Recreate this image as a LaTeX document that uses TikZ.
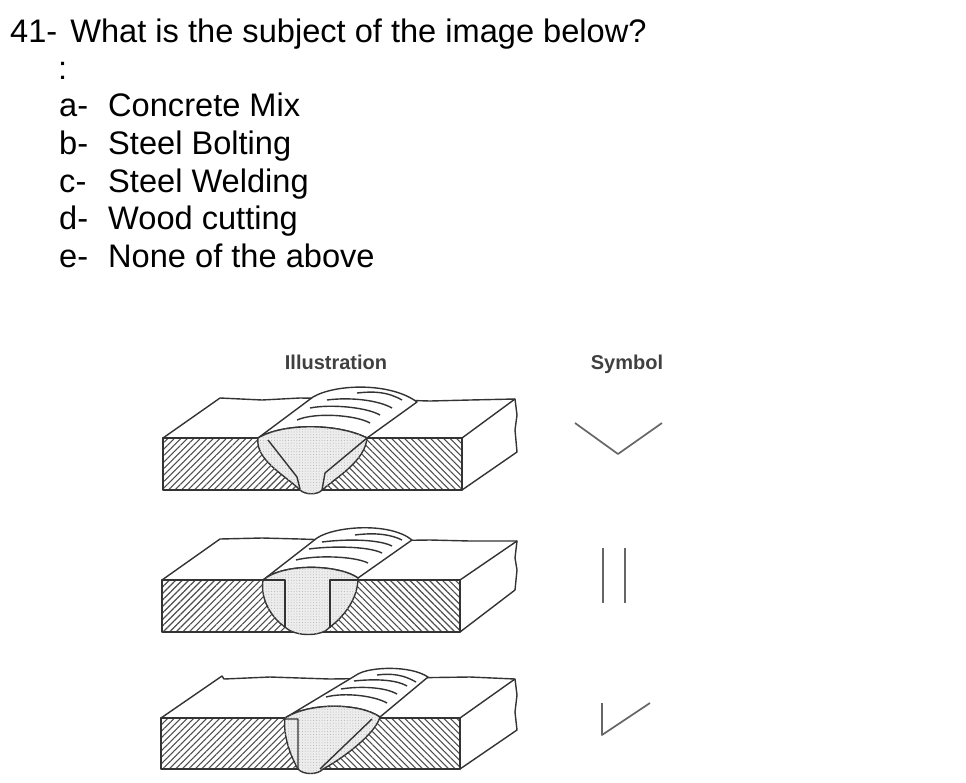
\documentclass[tikz,border=0pt]{standalone}
\usepackage{fontspec}
\setmainfont{Liberation Sans}
\usetikzlibrary{patterns.meta}
\begin{document}
\begin{tikzpicture}[x=1pt, y=-1pt, line join=round,
  lbl/.style={anchor=base west, inner sep=0pt, font=\fontsize{32.6}{32.6}\selectfont},
  hdr/.style={anchor=base, inner sep=0pt, text=black!75, font=\fontsize{20}{20}\selectfont\bfseries},
  edge/.style={line width=1.4pt, black!80},
  hatchR/.style={pattern={Lines[angle=45,distance=4.6pt,line width=1.1pt]}, pattern color=black!70},
  hatchL/.style={pattern={Lines[angle=-45,distance=4.6pt,line width=1.1pt]}, pattern color=black!70},
  weld/.style={fill=black!7, postaction={pattern={Dots[distance=2.8pt,radius=.5pt]}, pattern color=black!30}},
  sym/.style={line width=1.7pt, black!60}]
\useasboundingbox (0,0) rectangle (966,782);
\node[lbl] (q) at (10,42) {41-\hspace{4pt} What is the subject of the image below?};
\node[lbl] (c) at (58,79) {:};
\foreach \i/\j/\k/\t in {a/a-/116.5/Concrete Mix,b/b-/154.5/Steel Bolting,d/c-/192.5/Steel Welding,e/d-/229.5/Wood cutting,f/e-/267.5/None of the above}{
  \node[lbl] (\i1) at (59,\k) {\j};
  \node[lbl] (\i2) at (108,\k) {\t};
}
\node[hdr] (ill) at (336,369) {Illustration};
\node[hdr] (symb) at (627,369) {Symbol};

% top: double V
\draw[edge, fill=white] (163,438) -- (220,398) -- (262,400) -- (300,398) -- (360,399) -- (430,401) -- (470,400) -- (515,399) -- (517,415) -- (515,430) -- (517,452) -- (462,490) -- (462,438) -- cycle;
\draw[edge] (462,438) -- (515,399);
\fill[hatchR] (163,438) rectangle (300,490);
\fill[hatchL] (325,438) rectangle (462,490);
\draw[edge] (163,490) -- (163,438) -- (462,438) -- (462,490) -- cycle;
\draw[edge, fill=white] (258,438) -- (313,397) .. controls (335,384) and (390,382) .. (417,402) -- (367,438) .. controls (340,424) and (285,422) .. (258,438) -- cycle;
\draw[edge, weld] (258,438) .. controls (285,422) and (340,424) .. (367,438) .. controls (365,460) and (340,475) .. (322,490) .. controls (318,495) and (305,495) .. (300,490) .. controls (285,475) and (255,460) .. (258,438) -- cycle;
\draw[edge] (268,440) -- (297,477) -- (300,489) (367,438) -- (325,473) -- (322,490);
\foreach \a/\b/\c/\d/\e/\f in {297/420/315/412/370/423,310/408/330/404/380/415,327/400/350/397/392/408,357/393/375/391/402/400}{
  \draw[edge] (\a,\b) .. controls (\c,\d) and (\e-14,\f-8) .. (\e,\f);
}

% middle: square
\draw[edge, fill=white] (162,580) -- (220,539) -- (262,538) -- (300,539) -- (360,541) -- (430,540) -- (470,541) -- (517,541) -- (515,558) -- (517,570) -- (515,590) -- (460,632) -- (460,580) -- cycle;
\draw[edge] (460,580) -- (517,541);
\fill[hatchR] (162,580) rectangle (287,632);
\fill[hatchL] (330,580) rectangle (460,632);
\draw[edge] (162,632) -- (162,580) -- (460,580) -- (460,632) -- cycle;
\draw[edge, fill=white] (263,580) -- (317,538) .. controls (335,526) and (390,522) .. (412,540) -- (358,578) .. controls (340,565) and (285,562) .. (263,580) -- cycle;
\draw[edge, weld] (263,580) .. controls (285,562) and (340,565) .. (358,578) .. controls (358,600) and (342,618) .. (330,627) .. controls (322,637) and (295,637) .. (285,627) .. controls (272,618) and (260,600) .. (263,580) -- cycle;
\draw[edge] (263,580) -- (285,580) -- (285,628) (358,580) -- (330,580) -- (330,628);
\foreach \a/\b/\c/\d/\e/\f in {296/560/315/555/368/563,309/549/330/546/382/553,322/542/345/539/392/546,355/535/370/533/402/540}{
  \draw[edge] (\a,\b) .. controls (\c,\d) and (\e-14,\f-7) .. (\e,\f);
}

% bottom: single bevel
\draw[edge, fill=white] (161,718) -- (222,676) -- (224,679) -- (270,677) -- (330,679) -- (400,678) -- (470,677) -- (515,679) -- (517,695) -- (515,712) -- (517,730) -- (460,769) -- (460,718) -- cycle;
\draw[edge] (460,718) -- (515,679);
\fill[hatchR] (161,718) rectangle (298,769);
\fill[hatchL] (322,718) rectangle (460,769);
\draw[edge] (161,769) -- (161,718) -- (460,718) -- (460,769) -- cycle;
\draw[edge, fill=white] (285,718) -- (358,674) .. controls (370,667) and (410,665) .. (428,677) -- (380,717) .. controls (360,703) and (310,702) .. (285,718) -- cycle;
\draw[edge, weld] (285,718) .. controls (310,702) and (360,703) .. (380,717) .. controls (375,735) and (340,760) .. (323,769) .. controls (318,775) and (303,775) .. (298,769) .. controls (290,755) and (283,735) .. (285,718) -- cycle;
\draw[edge] (285,719) -- (298,719) -- (298,769) (372,719) -- (320,769);
\foreach \a/\b/\c/\d/\e/\f in {326/697/345/692/387/703,341/689/360/686/397/694,354/681/372/679/407/686,377/675/392/673/416/682}{
  \draw[edge] (\a,\b) .. controls (\c,\d) and (\e-12,\f-7) .. (\e,\f);
}

% weld symbols
\draw[sym] (575,423) -- (618,454) -- (662,423);
\draw[sym] (603,548) -- (603,603) (625,548) -- (625,603);
\draw[sym] (602,703) -- (602,735) -- (650,703);
\end{tikzpicture}
\end{document}
